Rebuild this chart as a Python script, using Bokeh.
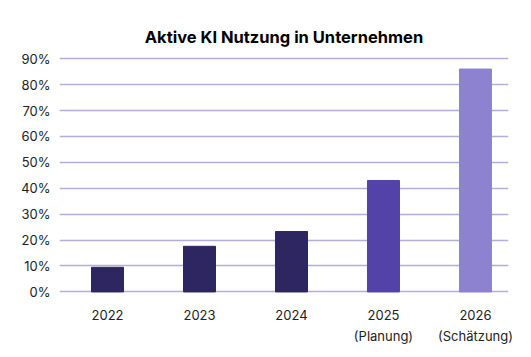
from bokeh.plotting import figure
from bokeh.models import ColumnDataSource, Range1d, FixedTicker
from bokeh.embed import file_html
from bokeh.resources import INLINE

years = ["2022", "2023", "2024", "2025\n(Planung)", "2026\n(Schätzung)"]
values = [9.5, 17.6, 23.3, 43.0, 86.0]
colors = ["#2e2660", "#2e2660", "#2e2660", "#5343a9", "#8c82d0"]
y_ticks = [0, 10, 20, 30, 40, 50, 60, 70, 80, 90]
y_labels = [f"{t}%" for t in y_ticks]

xs = list(range(len(years)))
src = ColumnDataSource(dict(x=xs, top=values, color=colors))

FONT = "Inter"
p = figure(width=531, height=357, output_backend="svg", toolbar_location=None,
           x_range=Range1d(-0.522, 4.359), y_range=Range1d(-1, 92),
           min_border_left=59, min_border_right=23, min_border_top=53, min_border_bottom=63)
p.title.text = "Aktive KI Nutzung in Unternehmen"
p.title.align = "center"
p.title.text_font = FONT
p.title.text_font_size = "16.5px"
p.title.text_font_style = "bold"
p.title.text_color = "#000000"
p.title.offset = 0
p.title.standoff = 14

p.vbar(x="x", top="top", width=0.348, bottom=0, color="color", source=src)

p.outline_line_color = None
p.xgrid.grid_line_color = None
p.ygrid.ticker = FixedTicker(ticks=y_ticks)
p.ygrid.grid_line_color = "#b5acdf"
p.ygrid.grid_line_width = 1.5

p.yaxis.ticker = FixedTicker(ticks=y_ticks)
p.yaxis.major_label_overrides = {t: l for t, l in zip(y_ticks, y_labels)}
p.xaxis.ticker = FixedTicker(ticks=xs)
p.xaxis.major_label_overrides = {i: l for i, l in zip(xs, years)}
for ax in (p.xaxis, p.yaxis):
    ax.axis_line_color = None
    ax.major_tick_line_color = None
    ax.minor_tick_line_color = None
    ax.major_label_text_font = FONT
    ax.major_label_text_font_size = "13px"
    ax.major_label_text_color = "#222222"
p.yaxis.major_label_standoff = 3
p.xaxis.major_label_standoff = 6
p.xaxis.major_label_text_line_height = 1.35

open("out.html", "w").write(file_html(p, INLINE))
